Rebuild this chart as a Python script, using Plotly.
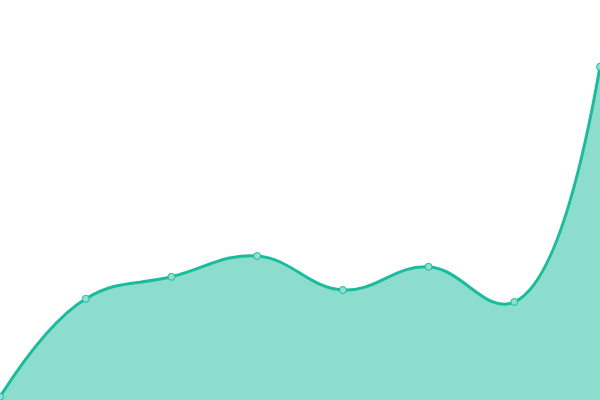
import plotly.graph_objects as go

# category positions and values
steps = [0, 1, 2, 3, 4, 5, 6, 7]
values = [0.8, 25.3, 30.8, 36.0, 27.5, 33.3, 24.5, 83.3]

fig = go.Figure()

fig.add_trace(go.Scatter(
    x=steps,
    y=values,
    mode='lines+markers',
    line=dict(color='#1abc9c', width=3, shape='spline', smoothing=1.2),
    marker=dict(size=7, color='#8ee0cf', line=dict(color='#1abc9c', width=1)),
    fill='tozeroy',
    fillcolor='rgba(26,188,156,0.5)',
    hoverinfo='x+y'
))

fig.update_layout(
    width=600,
    height=400,
    margin=dict(l=0, r=0, t=0, b=0),
    paper_bgcolor='white',
    plot_bgcolor='white',
    showlegend=False,
    xaxis=dict(visible=False, range=[0, 7]),
    yaxis=dict(visible=False, range=[0, 100])
)

# drop the default page margin so the chart fills the window
fig.write_html("out.html", config={'displayModeBar': False},
               post_script="document.body.style.margin='0';")
